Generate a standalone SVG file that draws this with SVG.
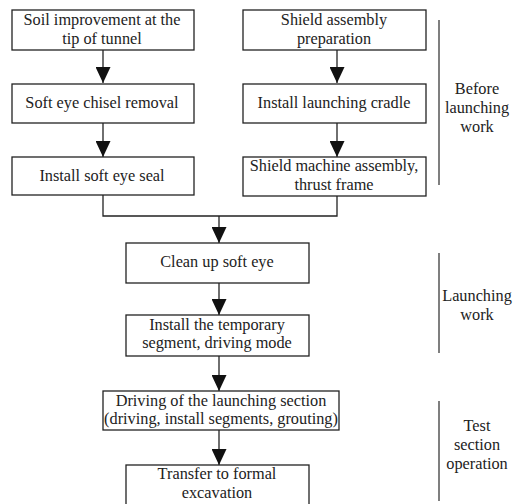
<svg xmlns="http://www.w3.org/2000/svg" width="514" height="504" viewBox="0 0 514 504">
<style>
.box{fill:#fff;stroke:#222;stroke-width:1.3}
.t{font-family:'Liberation Serif','DejaVu Serif',serif;font-size:16.3px;fill:#222;text-anchor:middle}
.c{fill:none;stroke:#222;stroke-width:1.3}
.br{stroke:#555;stroke-width:1.5}
</style>
<defs>
<marker id="ah" markerWidth="16" markerHeight="15" refX="16" refY="7.5" orient="auto" markerUnits="userSpaceOnUse">
<path d="M0,0 L16,7.5 L0,15 Z" fill="#111"/>
</marker>
</defs>
<rect width="514" height="504" fill="#fff"/>
<g id="connectors">
<line class="c" x1="103" y1="50" x2="103" y2="83" marker-end="url(#ah)"/>
<line class="c" x1="103" y1="123" x2="103" y2="157" marker-end="url(#ah)"/>
<line class="c" x1="337" y1="50" x2="337" y2="83" marker-end="url(#ah)"/>
<line class="c" x1="337" y1="123" x2="337" y2="157" marker-end="url(#ah)"/>
<path class="c" d="M103,195 V216 H337 V196"/>
<line class="c" x1="219" y1="216" x2="219" y2="243" marker-end="url(#ah)"/>
<line class="c" x1="219" y1="283" x2="219" y2="315" marker-end="url(#ah)"/>
<line class="c" x1="219" y1="356" x2="219" y2="391" marker-end="url(#ah)"/>
<line class="c" x1="219" y1="430" x2="219" y2="465" marker-end="url(#ah)"/>
</g>
<g id="n1"><rect class="box" x="12" y="10" width="182" height="40"/><text class="t" x="102" y="25">Soil improvement at the</text><text class="t" x="102" y="44">tip of tunnel</text></g>
<g id="n2"><rect class="box" x="12" y="84" width="182" height="39"/><text class="t" x="102" y="108">Soft eye chisel removal</text></g>
<g id="n3"><rect class="box" x="12" y="157" width="182" height="38"/><text class="t" x="102" y="181">Install soft eye seal</text></g>
<g id="n4"><rect class="box" x="243" y="10" width="183" height="40"/><text class="t" x="334" y="25">Shield assembly</text><text class="t" x="334" y="44">preparation</text></g>
<g id="n5"><rect class="box" x="243" y="84" width="183" height="39"/><text class="t" x="334" y="108">Install launching cradle</text></g>
<g id="n6"><rect class="box" x="243" y="157" width="183" height="39"/><text class="t" x="334" y="171">Shield machine assembly,</text><text class="t" x="334" y="190">thrust frame</text></g>
<g id="n7"><rect class="box" x="126" y="243" width="183" height="40"/><text class="t" x="217" y="267">Clean up soft eye</text></g>
<g id="n8"><rect class="box" x="126" y="315" width="183" height="41"/><text class="t" x="217" y="330">Install the temporary</text><text class="t" x="217" y="348">segment, driving mode</text></g>
<g id="n9"><rect class="box" x="103" y="391" width="236" height="39"/><text class="t" x="221" y="406">Driving of the launching section</text><text class="t" x="221" y="424">(driving, install segments, grouting)</text></g>
<g id="n10"><rect class="box" x="126" y="465" width="183" height="45"/><text class="t" x="217" y="479">Transfer to formal</text><text class="t" x="217" y="498">excavation</text></g>
<g id="phase1"><line class="br" x1="439" y1="20" x2="439" y2="185"/><text class="t" x="477" y="94">Before</text><text class="t" x="477" y="113">launching</text><text class="t" x="477" y="132">work</text></g>
<g id="phase2"><line class="br" x1="439" y1="253" x2="439" y2="353"/><text class="t" x="477" y="301">Launching</text><text class="t" x="477" y="320">work</text></g>
<g id="phase3"><line class="br" x1="439" y1="401" x2="439" y2="501"/><text class="t" x="477" y="431">Test</text><text class="t" x="477" y="450">section</text><text class="t" x="477" y="469">operation</text></g>
</svg>
